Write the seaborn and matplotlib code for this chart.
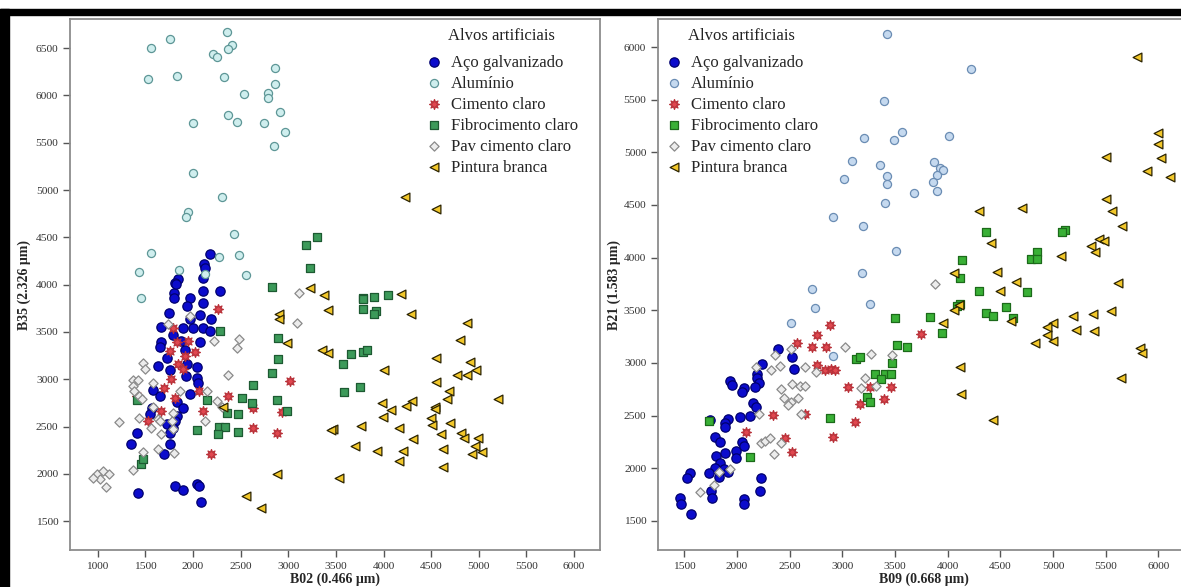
import numpy as np
import matplotlib
matplotlib.use('Agg')
import matplotlib.pyplot as plt
from matplotlib.patches import Rectangle
import seaborn as sns

sns.set_style('white')
plt.rcParams['font.family'] = ['Liberation Serif', 'DejaVu Serif']

# ---- dados (B02 x B35, painel esquerdo) ----
aco_esq = [(2175, 4323), (2112, 4217), (2122, 4175), (2102, 4069), (1840, 4058), (1808, 4016),
           (2102, 3931), (2280, 3931), (1797, 3910), (1818, 4005), (1797, 3858), (1965, 3858),
           (2102, 3805), (1933, 3773), (1745, 3699), (2070, 3678), (2185, 3636), (1965, 3636),
           (1670, 3551), (1892, 3540), (1996, 3540), (2102, 3540), (1786, 3467), (1670, 3392),
           (1650, 3340), (2070, 3392), (1912, 3308), (1723, 3223), (1933, 3160), (2039, 3128),
           (1755, 3096), (2039, 3012), (2049, 2959), (1577, 2885), (1965, 2843), (1829, 2758),
           (1892, 2695), (1567, 2695), (1546, 2631), (1829, 2610), (1808, 2557), (1723, 2526),
           (1786, 2483), (1409, 2431), (1755, 2431), (1347, 2314), (1755, 2314), (1692, 2208),
           (1808, 1870), (1892, 1828), (2039, 1891), (2060, 1870), (1420, 1796), (2090, 1701),
           (1629, 3139), (1870, 3403), (2175, 3508), (1923, 3033), (1650, 2822)]
aluminio_esq = [(2355, 6670), (1755, 6595), (1556, 6500), (2407, 6532), (2366, 6489), (2210, 6437),
                (2252, 6405), (2866, 6289), (1525, 6172), (1829, 6204), (2324, 6193), (2866, 6119),
                (2532, 6014), (2784, 6024), (2784, 5972), (2918, 5824), (1996, 5707), (2366, 5792),
                (2460, 5718), (2742, 5707), (2970, 5612), (2846, 5464), (1996, 5179), (2303, 4925),
                (1944, 4767), (1923, 4714), (2428, 4534), (1556, 4333), (2272, 4291), (2480, 4312),
                (1430, 4132), (1849, 4153), (2127, 4111), (2553, 4100), (1451, 3858)]
cimento_esq = [(1787, 3540), (1829, 3392), (1945, 3403), (2020, 3287), (1840, 3160), (1892, 3107),
               (1766, 3001), (1692, 2906), (2060, 2874), (1808, 2800), (1670, 2663), (1525, 2557),
               (1409, 2822), (2102, 2663), (2366, 2822), (2628, 2695), (3014, 2980), (2628, 2483),
               (2878, 2431), (2185, 2208), (2930, 2652), (2262, 3741), (1912, 3244), (1755, 3297)]
fibro_esq = [(3300, 4502), (3185, 4418), (3226, 4175), (3780, 3858), (3780, 3847), (3905, 3868),
             (4050, 3889), (3780, 3741), (3926, 3720), (3905, 3688), (3655, 3266), (3570, 3160),
             (3780, 3287), (3822, 3308), (3590, 2864), (3758, 2917), (2985, 2663), (2835, 3974),
             (2283, 3509), (2898, 3435), (2898, 3213), (2835, 3065), (2628, 2938), (2512, 2800),
             (2145, 2779), (2618, 2748), (2878, 2779), (2355, 2642), (2470, 2631), (2272, 2494),
             (2335, 2494), (2040, 2462), (2470, 2441), (2262, 2420), (1451, 2103), (1472, 2155),
             (1409, 2779)]
pav_esq = [(3118, 3910), (3087, 3593), (2480, 3424), (2460, 3329), (2220, 3403), (2366, 3044),
           (2145, 2874), (2252, 2769), (2303, 2705), (1472, 3170), (1493, 3107), (1367, 2991),
           (1420, 2991), (1367, 2927), (1378, 2874), (1577, 2959), (1430, 2822), (1461, 2790),
           (1220, 2547), (1430, 2589), (1577, 2705), (1629, 2578), (1650, 2557), (1556, 2483),
           (1670, 2420), (1786, 2642), (1776, 2557), (1786, 2473), (1472, 2230), (1629, 2261),
           (1797, 2219), (1367, 2039), (990, 1997), (1052, 2029), (1124, 1997), (1021, 1944),
           (1093, 1860), (948, 1955), (1860, 2874), (2122, 2557), (1735, 3583), (1965, 3667)]
pintura_esq = [(4225, 4925), (4555, 4798), (3230, 3963), (3375, 3889), (3417, 3731), (4183, 3900),
               (4288, 3688), (4878, 3593), (4805, 3414), (2990, 3382), (3353, 3308), (3417, 3276),
               (4555, 3223), (4008, 3096), (4910, 3181), (4970, 3096), (4878, 3044), (4773, 3044),
               (4555, 2970), (4690, 2874), (4670, 2790), (5200, 2790), (3985, 2748), (4297, 2769),
               (4235, 2716), (4080, 2674), (4545, 2705), (3995, 2600), (4545, 2684), (4494, 2589),
               (4514, 2515), (4700, 2536), (4162, 2483), (3767, 2504), (3467, 2473), (3447, 2462),
               (4607, 2420), (4815, 2431), (4845, 2378), (4990, 2378), (4307, 2367), (3705, 2293),
               (3933, 2240), (4628, 2261), (4960, 2293), (4204, 2240), (4928, 2208), (5034, 2230),
               (4162, 2134), (4628, 2071), (3529, 1955), (2908, 3688), (2908, 3635), (2314, 2705),
               (2887, 1997), (2562, 1765), (2717, 1638)]

# ---- painel direito (B09 x B21) ----
aco_dir = [(2386, 3135), (2519, 3059), (2538, 2945), (2233, 2992), (2186, 2897), (2186, 2859),
           (2205, 2812), (2167, 2774), (2071, 2765), (1938, 2831), (1948, 2793), (2043, 2727),
           (2148, 2622), (2176, 2584), (2119, 2499), (2024, 2489), (1919, 2470), (1890, 2432),
           (1890, 2394), (1795, 2300), (1843, 2252), (2043, 2252), (2071, 2214), (1805, 2119),
           (1890, 2148), (1995, 2167), (1995, 2100), (1843, 2053), (1795, 2005), (1881, 1996),
           (1738, 1958), (1833, 1920), (1919, 1968), (1557, 1958), (1529, 1911), (2224, 1911),
           (2214, 1787), (1757, 1787), (1767, 1721), (1462, 1721), (1471, 1664), (2071, 1711),
           (2071, 1664), (1567, 1569), (1748, 2461)]
aluminio_dir = [(3424, 6123), (4224, 5791), (3395, 5488), (3205, 5137), (3490, 5118), (3567, 5194),
                (4014, 5156), (3091, 4918), (3357, 4880), (3871, 4909), (3929, 4852), (3957, 4833),
                (3424, 4776), (3424, 4700), (3900, 4786), (3862, 4719), (3014, 4748), (3681, 4615),
                (3900, 4634), (3405, 4520), (2910, 4387), (3195, 4302), (3510, 4064), (3186, 3856),
                (3262, 3562), (2910, 3068), (2710, 3704), (2738, 3524), (2510, 3381)]
cimento_dir = [(2567, 3192), (2757, 3267), (2881, 3362), (2710, 3154), (2843, 3154), (2757, 2983),
               (2833, 2935), (2890, 2945), (2929, 2935), (3052, 2774), (3167, 2613), (3119, 2442),
               (2910, 2300), (2643, 2518), (2338, 2508), (2452, 2290), (2519, 2157), (2081, 2347),
               (3262, 2774), (3462, 2774), (3395, 2660), (3748, 3277)]
fibro_dir = [(4367, 4245), (5110, 4264), (5081, 4245), (4138, 3979), (4843, 4055), (4786, 3989),
             (4852, 3989), (4119, 3808), (4300, 3685), (4748, 3675), (4119, 3562), (4090, 3543),
             (4557, 3533), (4367, 3476), (4433, 3448), (4624, 3429), (3500, 3429), (3833, 3438),
             (3948, 3286), (3519, 3173), (3614, 3154), (3129, 3040), (3167, 3059), (3471, 2998),
             (3310, 2897), (3405, 2897), (3462, 2897), (3367, 2850), (3233, 2679), (3262, 2632),
             (2881, 2480), (1738, 2452), (2119, 2110)]
pav_dir = [(1652, 1778), (1786, 1844), (1833, 1968), (1929, 1996), (2205, 2518), (2224, 2243),
           (2262, 2262), (2310, 2290), (2348, 2138), (2414, 2243), (2510, 3135), (2319, 2935),
           (2405, 2973), (2176, 2964), (2414, 2755), (2443, 2670), (2519, 2803), (2510, 2632),
           (2576, 2670), (2595, 2784), (2643, 2784), (2481, 2603), (2605, 2518), (2643, 2964),
           (2748, 2916), (3024, 3154), (3271, 3087), (3214, 2860), (3176, 2765), (3319, 2784),
           (3471, 3078), (3881, 3751), (2357, 3078)]
pintura_dir = [(5795, 5905), (5995, 5184), (5995, 5080), (6024, 4947), (5890, 4823), (6110, 4767),
               (5500, 4956), (5500, 4558), (5557, 4444), (5652, 4302), (4300, 4444), (4710, 4472),
               (4414, 4140), (5433, 4178), (5481, 4159), (5357, 4112), (5395, 4055), (5071, 4017),
               (4062, 3856), (4471, 3865), (4652, 3770), (4500, 3685), (5614, 3761), (4062, 3505),
               (4110, 3552), (3957, 3381), (4605, 3400), (5186, 3448), (5376, 3467), (5548, 3495),
               (4995, 3381), (4938, 3343), (5214, 3315), (5386, 3305), (4938, 3267), (4995, 3210),
               (4833, 3192), (5824, 3144), (5843, 3097), (5643, 2860), (4119, 2964), (4129, 2708),
               (4433, 2461)]

categorias = ['Aço galvanizado', 'Alumínio', 'Cimento claro', 'Fibrocimento claro',
              'Pav cimento claro', 'Pintura branca']

# marcador, cor, borda, tamanho
estilo_esq = [('o', '#0b0bcc', '#00006e', 45),
              ('o', '#cfeeee', '#5d9696', 34),
              ((8, 1, 0), '#e0474f', '#b83038', 50),
              ('s', '#3c9a5a', '#1d5a32', 26),
              ('D', '#ececec', '#8a8a8a', 22),
              ('<', '#f2c72a', '#2a2200', 40)]
estilo_dir = [('o', '#0b0bcc', '#00006e', 45),
              ('o', '#c5d9ef', '#6a8cb3', 34),
              ((8, 1, 0), '#e0474f', '#b83038', 50),
              ('s', '#39b036', '#1c6a1a', 26),
              ('D', '#ececec', '#8a8a8a', 22),
              ('<', '#f2c72a', '#2a2200', 40)]


def desenha(ax, grupos, estilos):
    for nome, pts, (mk, cor, borda, tam) in zip(categorias, grupos, estilos):
        pts = np.array(pts)
        sns.scatterplot(x=pts[:, 0], y=pts[:, 1], ax=ax, marker=mk, color=cor,
                        edgecolor=borda, s=tam, linewidth=0.9, label=nome, legend=False)
    for sp in ax.spines.values():
        sp.set_color('#8c8c8c')
        sp.set_linewidth(1.3)
    ax.tick_params(direction='out', length=5, width=1, color='#555555',
                   labelsize=8.2, labelcolor='#333333', left=True, bottom=True)


fig = plt.figure(figsize=(11.81, 5.87), dpi=100)
W, H = 1181, 587
ax1 = fig.add_axes([70 / W, 37 / H, 530 / W, 531 / H])
ax2 = fig.add_axes([658 / W, 37 / H, 532 / W, 531 / H])

desenha(ax1, [aco_esq, aluminio_esq, cimento_esq, fibro_esq, pav_esq, pintura_esq], estilo_esq)
desenha(ax2, [aco_dir, aluminio_dir, cimento_dir, fibro_dir, pav_dir, pintura_dir], estilo_dir)

ax1.set_xlim(710, 6272)
ax1.set_ylim(1195, 6808)
ax1.set_xticks(np.arange(1000, 6001, 500))
ax1.set_yticks(np.arange(1500, 6501, 500))
ax2.set_xlim(1250, 6300)
ax2.set_ylim(1223, 6266)
ax2.set_xticks(np.arange(1500, 6001, 500))
ax2.set_yticks(np.arange(1500, 6001, 500))

ax1.set_xlabel('B02 (0.466 μm)', fontsize=10, fontweight='bold', labelpad=1)
ax1.set_ylabel('B35 (2.326 μm)', fontsize=10, fontweight='bold', labelpad=3)
ax2.set_xlabel('B09 (0.668 μm)', fontsize=10, fontweight='bold', labelpad=1)
ax2.set_ylabel('B21 (1.583 μm)', fontsize=10, fontweight='bold', labelpad=2)

for ax, x0 in [(ax1, 412), (ax2, 652)]:
    leg = ax.legend(title='Alvos artificiais', loc='upper left', frameon=False,
                    bbox_to_anchor=(x0 / W, 1 - 16 / H), bbox_transform=fig.transFigure,
                    fontsize=12, title_fontsize=12, labelspacing=0.3,
                    handletextpad=0.45, handlelength=1.2, borderpad=0.2)
    leg.get_title().set_color('#222222')
    leg._legend_box.sep = 8

# moldura preta da figura original
fig.patches.append(Rectangle((0, 0), 9 / W, 1 - 9 / H, transform=fig.transFigure,
                             color='black', zorder=10))
fig.patches.append(Rectangle((0, 1 - 15 / H), 1, 6 / H, transform=fig.transFigure,
                             color='black', zorder=10))

fig.savefig('out.png', dpi=100)
